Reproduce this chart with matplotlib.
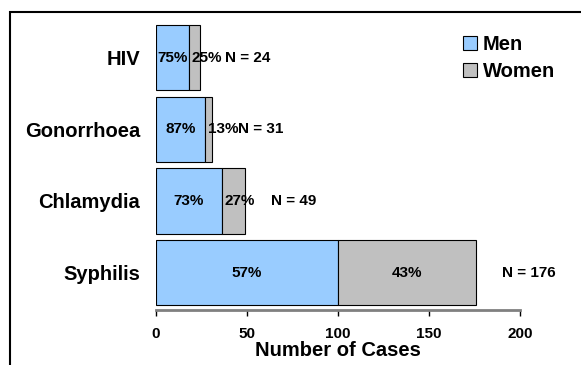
import matplotlib.pyplot as plt
from matplotlib.patches import Rectangle

plt.rcParams['font.family'] = ['Liberation Sans', 'DejaVu Sans']
plt.rcParams['font.weight'] = 'bold'

# STI cases by sex
infections = ['Syphilis', 'Chlamydia', 'Gonorrhoea', 'HIV']
men = [100, 36, 27, 18]
women = [76, 13, 4, 6]
men_pct = ['57%', '73%', '87%', '75%']
women_pct = ['43%', '27%', '13%', '25%']
totals = [176, 49, 31, 24]

blue = '#99CCFF'
grey = '#C0C0C0'

fig = plt.figure(figsize=(5.81, 3.65), dpi=100)
ax = fig.add_axes([0.2685, 0.157, 0.6265, 0.781])

ypos = range(len(infections))
ax.barh(ypos, men, height=0.91, color=blue, edgecolor='black', linewidth=0.8, label='Men')
ax.barh(ypos, women, left=men, height=0.91, color=grey, edgecolor='black', linewidth=0.8, label='Women')

for i in ypos:
    ax.text(men[i] / 2, i, men_pct[i], ha='center', va='center',
            fontsize=11, fontweight='bold')
    if women[i] > 20:
        ax.text(men[i] + women[i] / 2, i, women_pct[i], ha='center', va='center',
                fontsize=11, fontweight='bold')
    else:
        # narrow segment: start the label at the segment edge
        ax.text(men[i] + 1.5, i, women_pct[i], ha='left', va='center',
                fontsize=11, fontweight='bold')
    ax.text(totals[i] + 14, i, f'N = {totals[i]}', ha='left', va='center',
            fontsize=11, fontweight='bold')

ax.set_xlim(0, 200)
ax.set_ylim(-0.49, 3.49)
ax.set_xticks([0, 50, 100, 150, 200])
ax.set_yticks(list(ypos))
ax.set_yticklabels(infections)
ax.tick_params(axis='y', length=0, pad=11.5, labelsize=14.5)
ax.tick_params(axis='x', direction='out', length=4, width=1, pad=8, labelsize=11)
ax.set_xlabel('Number of Cases', fontsize=14.5, fontweight='bold', labelpad=0)

for side in ['top', 'right', 'left']:
    ax.spines[side].set_visible(False)
ax.spines['bottom'].set_color('#808080')
ax.spines['bottom'].set_linewidth(2)
ax.spines['bottom'].set_position(('outward', 2))

ax.legend(loc='upper left', bbox_to_anchor=(0.82, 0.985), frameon=False,
          prop={'weight': 'bold', 'size': 14.5}, handlelength=0.7, handleheight=0.7,
          handletextpad=0.3, labelspacing=0.4, borderaxespad=0)

# outer frame around the chart
fig.patches.append(Rectangle((10 / 581, -0.1), 1.2, 1.1 - 12 / 365,
                             transform=fig.transFigure, fill=False,
                             edgecolor='black', linewidth=1.5))

fig.savefig('out.png', dpi=100)
